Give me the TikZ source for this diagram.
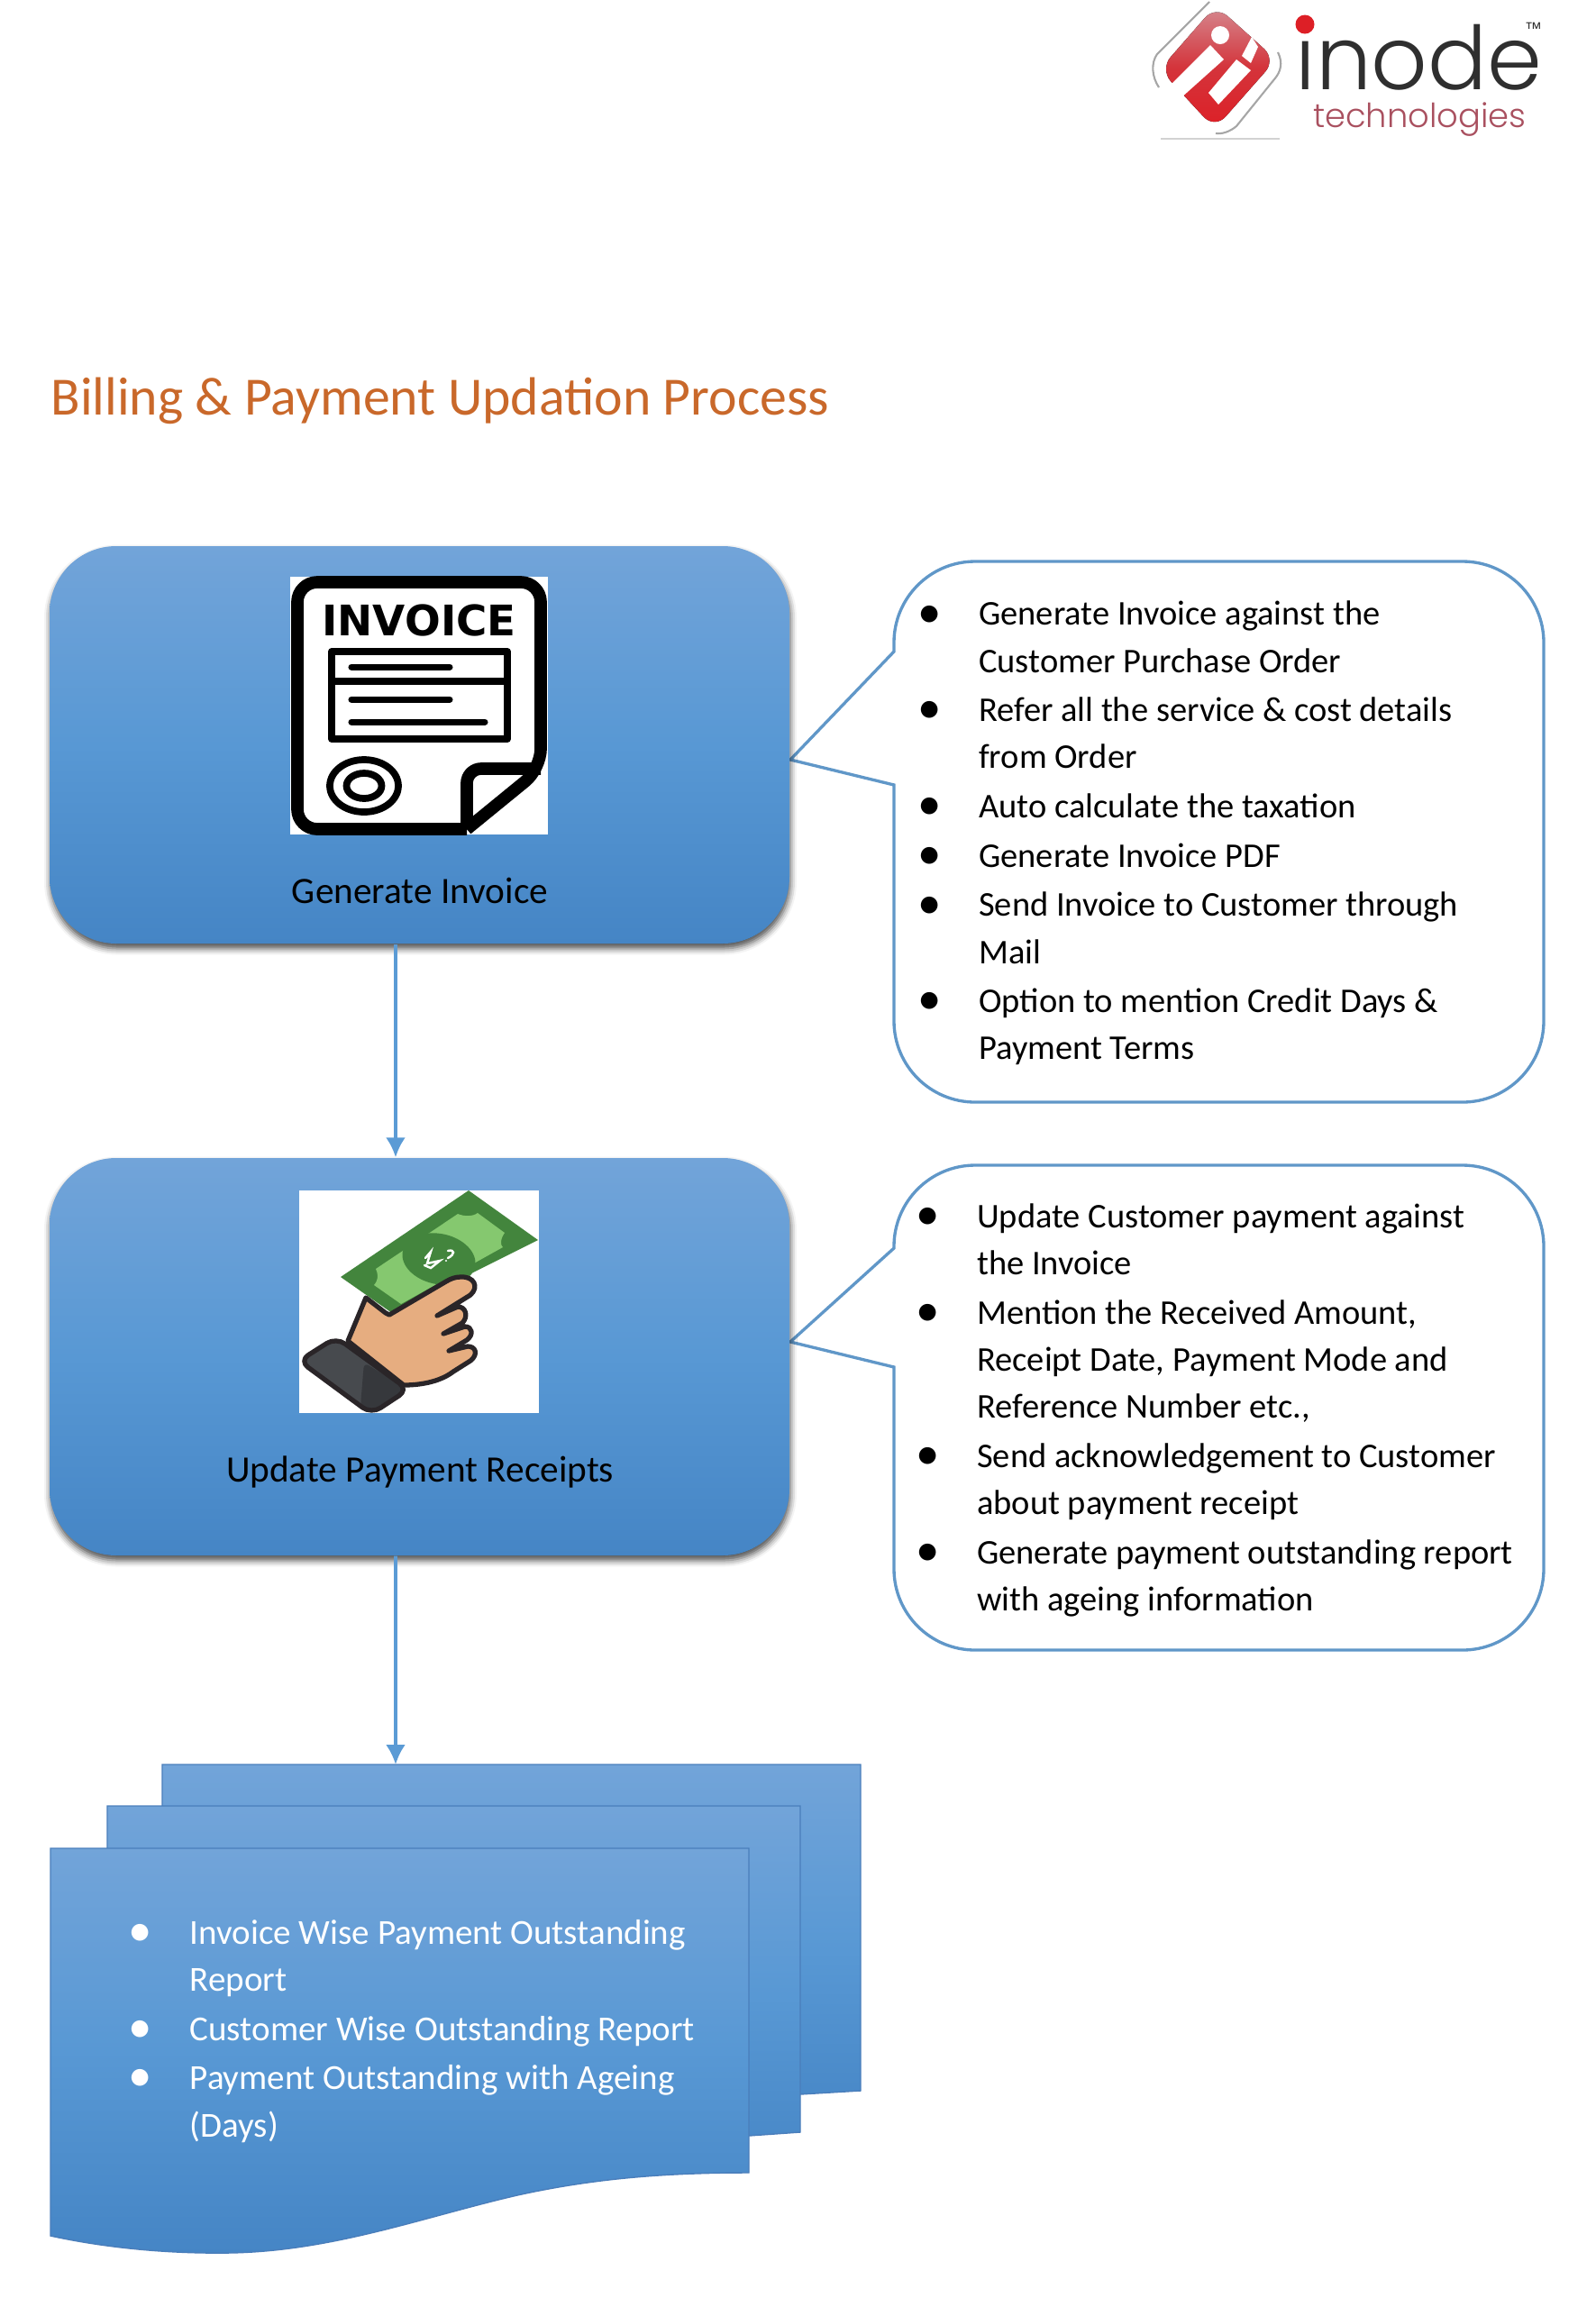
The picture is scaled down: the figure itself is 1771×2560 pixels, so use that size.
\documentclass[tikz,border=0pt]{standalone}
\usepackage{fontspec}
\usepackage{tkz-euclide}
\usetikzlibrary{arrows.meta,shadows.blur}
\setmainfont{Carlito}
\newfontfamily\logoFont{Poppins}[UprightFont=* Light]
\newfontfamily\stampFont{DejaVu Sans}
\newfontfamily\tmFont{Liberation Sans}

\definecolor{boxTop}{HTML}{72A4D9}
\definecolor{boxMid}{HTML}{5898D4}
\definecolor{boxLow}{HTML}{4585C5}
\definecolor{lineBlue}{HTML}{5B9BD5}
\definecolor{sheetEdge}{HTML}{4A7EBB}
\definecolor{titleOrange}{HTML}{C9682A}
\definecolor{noteDark}{HTML}{43853D}
\definecolor{noteLight}{HTML}{85C86F}
\definecolor{skinTone}{HTML}{E6AD80}
\definecolor{sleeveTone}{HTML}{474A4E}
\definecolor{sleeveDark}{HTML}{36383C}
\definecolor{inkTone}{HTML}{2A2528}
\definecolor{logoRed}{HTML}{DD1F26}
\definecolor{logoMid}{HTML}{D4343B}
\definecolor{logoPink}{HTML}{D58A91}
\definecolor{logoGray}{HTML}{2F2F2F}
\definecolor{logoWine}{HTML}{A9505F}

\newcommand{\listDot}{\llap{\raisebox{-.6pt}{\fontsize{15}{15}\selectfont\textbullet}\hspace{11.8pt}}}

\tikzset{
  processBox/.style={rounded corners=7.4mm,minimum width=82.1mm,minimum height=44.1mm,
    draw=none,top color=boxTop,bottom color=boxLow,middle color=boxMid,
    blur shadow={shadow xshift=.1mm,shadow yshift=-.55mm,shadow blur radius=.7mm,shadow opacity=70}},
  boxLabel/.style={font=\fontsize{11.75}{14}\selectfont,text=black,inner sep=0pt},
  listText/.style={font=\fontsize{10.95}{14.85}\selectfont,align=left,anchor=north west,inner sep=0pt},
  calloutLine/.style={draw=lineBlue!85!gray,line width=.95pt,fill=white},
  flowArrow/.style={draw=lineBlue,line width=1.1pt,-{Latex[length=2.2mm,width=2.2mm]}},
  sheetFill/.style={draw=sheetEdge,line width=.4pt,top color=boxTop,bottom color=boxLow,middle color=boxMid},
  iconInk/.style={draw=black,line width=3.9pt,line join=round},
  handInk/.style={draw=inkTone,line width=1.5pt,line join=round,line cap=round}
}

\begin{document}
\begin{tikzpicture}[x=.1mm,y=-.1mm]
\useasboundingbox (0,0) rectangle (1771,2560);

% logo
\tkzDefPoint(1349,6){lgA}
\tkzDefPoint(1416,66){lgB}
\tkzDefPoint(1348,143){lgC}
\tkzDefPoint(1287,77){lgD}
\fill[rounded corners=1.8mm,top color=logoPink,bottom color=logoRed,middle color=logoMid] (lgA) -- (lgB) -- (lgC) -- (lgD) -- cycle;
\fill[white] (1343,50) -- (1358,66) -- (1310,109) -- (1296,97) -- cycle;
\fill[white] (1372,66) -- (1388,78) -- (1352,116) -- (1341,103) -- cycle;
\fill[white] (1389,41) -- (1396,52) -- (1388,70) -- (1378,62) -- cycle;
\fill[white] (1354,39) circle (10);
\draw[gray!70,line width=.6pt] (1342,2) -- (1284,60) .. controls (1277,70) and (1278,85) .. (1286,97);
\draw[gray!70,line width=.6pt] (1418,58) .. controls (1424,70) and (1421,80) .. (1414,88) -- (1372,140) .. controls (1365,146) and (1356,149) .. (1349,148);
\draw[gray!35,line width=.6pt] (1288,154) -- (1420,154);
\node[font=\logoFont\fontsize{27.8}{30}\selectfont,text=logoGray,anchor=base west,inner sep=0pt] (logoName) at (1437,99) {inode};
\fill[logoRed] (1448,27) circle (10.5);
\node[font=\logoFont\fontsize{10.5}{12}\selectfont,text=logoWine,anchor=base west,inner sep=0pt] (logoSub) at (1456.5,141) {technologies};
\node[font=\tmFont\fontsize{5.5}{6}\selectfont,text=logoGray,anchor=base east,inner sep=0pt] (logoMark) at (1712,38) {™};

% title
\node[font=\fontsize{17}{20}\selectfont,text=titleOrange,anchor=base west,inner sep=0pt] (pageTitle) at (56,460) {Billing \& Payment Updation Process};

% callouts
\tkzDefPoint(877,843){tipA}
\tkzDefPoint(992,723){upA}
\tkzDefPoint(992,871){lowA}
\draw[calloutLine] (tipA) -- (upA) [rounded corners=9mm] -- (992,623) -- (1713,623) -- (1713,1223) -- (992,1223) [sharp corners] -- (lowA) -- cycle;

\tkzDefPoint(877,1489){tipB}
\tkzDefPoint(992,1385){upB}
\tkzDefPoint(992,1517){lowB}
\draw[calloutLine] (tipB) -- (upB) [rounded corners=9mm] -- (992,1293) -- (1713,1293) -- (1713,1831) -- (992,1831) [sharp corners] -- (lowB) -- cycle;

\node[listText] (genList) at (1085.5,666.5) {\listDot Generate Invoice against the\\Customer Purchase Order\\[.7pt]
\listDot Refer all the service \& cost details\\from Order\\[.7pt]
\listDot Auto calculate the taxation\\[.7pt]
\listDot Generate Invoice PDF\\[.7pt]
\listDot Send Invoice to Customer through\\Mail\\[.7pt]
\listDot Option to mention Credit Days \&\\Payment Terms};

\node[listText] (payList) at (1083.5,1335) {\listDot Update Customer payment against\\the Invoice\\[.7pt]
\listDot Mention the Received Amount,\\Receipt Date, Payment Mode and\\Reference Number etc.,\\[.7pt]
\listDot Send acknowledgement to Customer\\about payment receipt\\[.7pt]
\listDot Generate payment outstanding report\\with ageing information};

% process boxes
\node[processBox] (genBox) at (465.5,826.5) {};
\node[processBox] (payBox) at (465.5,1505.5) {};
\node[boxLabel] (genLabel) at (466,988) {Generate Invoice};
\node[boxLabel] (payLabel) at (466,1633) {Update Payment Receipts};

% invoice picture
\fill[white] (322,640) rectangle (608,926);
\draw[iconInk,rounded corners=2.2mm] (518,920) -- (330,920) -- (330,646) -- (600,646) -- (600,853) [sharp corners] -- (518,920);
\draw[iconInk,rounded corners=1.6mm] (518,920) -- (518,853) -- (600,853);
\node[font=\stampFont\bfseries\fontsize{13.3}{14}\selectfont,inner sep=0pt,anchor=base] (stampWord) at (465,705) {INVOICE};
\draw[draw=black,line width=2.3pt,line join=round] (368,723) rectangle (563,820);
\draw[draw=black,line width=2.3pt] (368,756) -- (563,756);
\draw[draw=black,line width=2pt,line cap=round] (390,740) -- (499,740);
\draw[draw=black,line width=2pt,line cap=round] (390,776) -- (499,776);
\draw[draw=black,line width=2pt,line cap=round] (390,801) -- (538,801);
\draw[draw=black,line width=2.2pt] (404,872) ellipse [x radius=38,y radius=29];
\draw[draw=black,line width=2.2pt] (404,872) ellipse [x radius=19.5,y radius=14];

% money picture
\fill[white] (332,1321) rectangle (598,1568);
\tkzDefPoint(520,1321){noteA}
\tkzDefPoint(597,1376){noteB}
\tkzDefPoint(435,1457){noteC}
\tkzDefPoint(378,1417){noteD}
\tkzDrawPolygon[fill=noteDark,draw=none](noteA,noteB,noteC,noteD)
\fill[noteLight] (417,1408) -- (508,1347) .. controls (515,1350) and (525,1350) .. (530,1346) -- (560,1368) .. controls (555,1375) and (555,1382) .. (558,1384) -- (445,1447) -- (415,1426) .. controls (420,1420) and (420,1415) .. (417,1408) -- cycle;
\fill[noteDark,rotate around={-12:(487,1397)}] (487,1397) ellipse [x radius=41,y radius=28];
\draw[white,line width=.7pt,line cap=round] (472,1396) -- (478,1389) -- (474,1402) -- (488,1399) -- (478,1407) -- (471,1404);
\draw[white,line width=.7pt,line cap=round] (497,1388) .. controls (505,1386) and (505,1392) .. (497,1396);
\fill[white] (495,1399) circle (1.2);
\draw[handInk,fill=skinTone] (406,1440) -- (386,1488) -- (448,1537) .. controls (470,1537) and (490,1532) .. (503,1522) -- (522,1510) .. controls (531,1503) and (528,1494) .. (519,1494) -- (498,1499) -- (518,1487) .. controls (526,1481) and (524,1472) .. (516,1472) -- (492,1480) -- (513,1468) .. controls (520,1461) and (517,1450) .. (508,1450) -- (485,1460) -- (522,1437) .. controls (532,1428) and (526,1416) .. (511,1417) .. controls (505,1417) and (500,1419) .. (495,1422) -- (432,1459) -- (428,1457) -- cycle;
\fill[sleeveTone,rounded corners=1.2mm] (373,1484) -- (332,1510) -- (412,1569) -- (453,1542) -- cycle;
\fill[sleeveDark,rounded corners=.6mm] (404,1512) -- (453,1542) -- (412,1569) -- (400,1560) -- cycle;
\draw[handInk,rounded corners=1.2mm] (373,1484) -- (332,1510) -- (412,1569) -- (453,1542) -- cycle;

% report sheets
\coordinate (sheetTop) at (439,1958);
\path[sheetFill] (180,1958) -- (955,1958) -- (955,2320) -- (888,2324) -- (700,2340) -- (180,2370) -- cycle;
\path[sheetFill] (119,2004) -- (888,2004) -- (888,2366) -- (831,2370) -- (700,2385) -- (119,2425) -- cycle;
\path[sheetFill] (56,2051) -- (831,2051) -- (831,2411) .. controls (740,2411) and (660,2417) .. (574,2436) .. controls (470,2460) and (370,2498) .. (255,2500) .. controls (190,2501) and (120,2495) .. (56,2481) -- cycle;
\node[listText,font=\fontsize{11.1}{14.85}\selectfont,text=white] (sheetList) at (210,2129.5) {\listDot Invoice Wise Payment Outstanding\\Report\\[.7pt]
\listDot Customer Wise Outstanding Report\\[.7pt]
\listDot Payment Outstanding with Ageing\\(Days)};

% connectors
\draw[flowArrow] ([xshift=-2.65mm]genBox.south) -- ([xshift=-2.65mm]payBox.north);
\draw[flowArrow] ([xshift=-2.65mm]payBox.south) -- (sheetTop);

\end{tikzpicture}
\end{document}
